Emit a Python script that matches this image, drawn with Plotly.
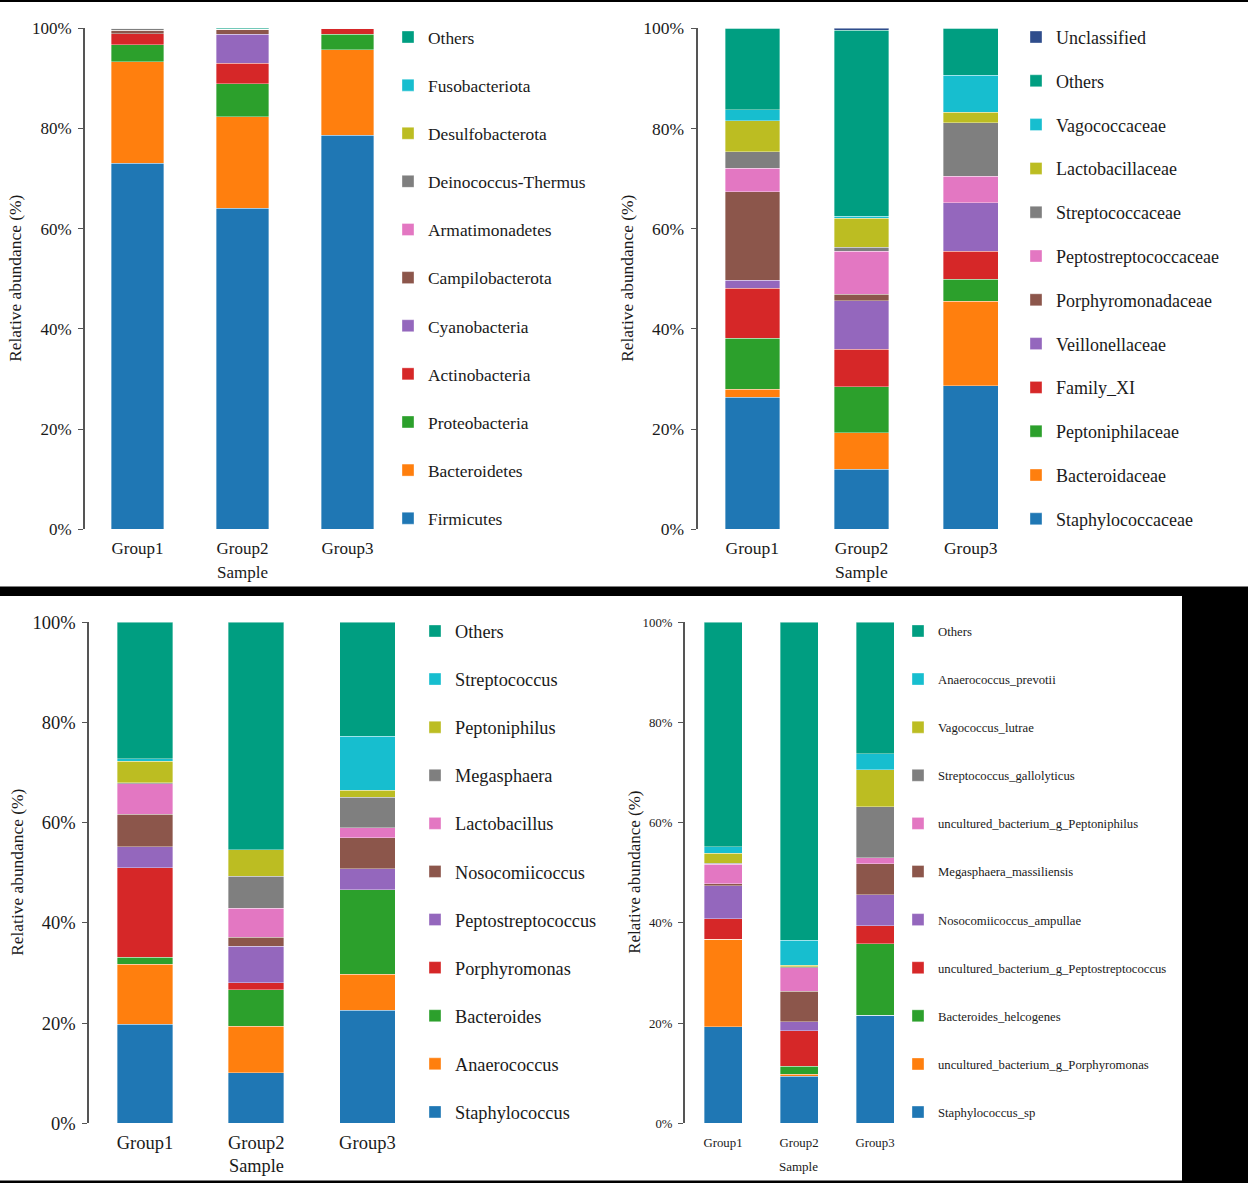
import plotly.graph_objects as go

W, H = 1248, 1183
groups = ["Group1", "Group2", "Group3"]
ytick_vals = [0, 20, 40, 60, 80, 100]
ytick_text = ["0%", "20%", "40%", "60%", "80%", "100%"]

# colours, bottom of the stack first
palette = ["#1f77b4", "#ff7f0e", "#2ca02c", "#d62728", "#9467bd", "#8c564b",
           "#e377c2", "#7f7f7f", "#bcbd22", "#17becf", "#009e81", "#2f4d8c"]

# phylum level
phylum_names = ["Firmicutes", "Bacteroidetes", "Proteobacteria", "Actinobacteria",
                "Cyanobacteria", "Campilobacterota", "Armatimonadetes",
                "Deinococcus-Thermus", "Desulfobacterota", "Fusobacteriota", "Others"]
phylum_g1 = [73.1, 20.2, 3.4, 2.2, 0.0, 0.7, 0.0, 0.4, 0.0, 0.0, 0.0]
phylum_g2 = [64.1, 18.2, 6.6, 4.1, 5.8, 1.0, 0.0, 0.0, 0.0, 0.0, 0.2]
phylum_g3 = [78.7, 17.0, 3.1, 1.2, 0.0, 0.0, 0.0, 0.0, 0.0, 0.0, 0.0]

# family level
family_names = ["Staphylococcaceae", "Bacteroidaceae", "Peptoniphilaceae", "Family_XI",
                "Veillonellaceae", "Porphyromonadaceae", "Peptostreptococcaceae",
                "Streptococcaceae", "Lactobacillaceae", "Vagococcaceae", "Others",
                "Unclassified"]
family_g1 = [26.4, 1.6, 10.1, 10.0, 1.6, 17.7, 4.7, 3.3, 6.1, 2.2, 16.3, 0.0]
family_g2 = [12.0, 7.3, 9.2, 7.4, 9.7, 1.3, 8.6, 0.8, 5.8, 0.4, 37.1, 0.4]
family_g3 = [28.7, 16.8, 4.4, 5.6, 9.7, 0.0, 5.3, 10.6, 2.1, 7.4, 9.4, 0.0]

# genus level
genus_names = ["Staphylococcus", "Anaerococcus", "Bacteroides", "Porphyromonas",
               "Peptostreptococcus", "Nosocomiicoccus", "Lactobacillus", "Megasphaera",
               "Peptoniphilus", "Streptococcus", "Others"]
genus_g1 = [19.8, 11.9, 1.4, 17.9, 4.2, 6.5, 6.1, 0.2, 4.3, 0.5, 27.2]
genus_g2 = [10.1, 9.3, 7.3, 1.4, 7.2, 1.8, 5.8, 6.4, 5.3, 0.0, 45.4]
genus_g3 = [22.6, 7.2, 16.8, 0.0, 4.2, 6.2, 2.0, 6.1, 1.4, 10.8, 22.7]

# species level
species_names = ["Staphylococcus_sp", "uncultured_bacterium_g_Porphyromonas",
                 "Bacteroides_helcogenes", "uncultured_bacterium_g_Peptostreptococcus",
                 "Nosocomiicoccus_ampullae", "Megasphaera_massiliensis",
                 "uncultured_bacterium_g_Peptoniphilus", "Streptococcus_gallolyticus",
                 "Vagococcus_lutrae", "Anaerococcus_prevotii", "Others"]
species_g1 = [19.3, 17.4, 0.0, 4.1, 6.6, 0.4, 3.9, 0.2, 2.0, 1.3, 44.8]
species_g2 = [9.4, 0.4, 1.6, 7.1, 1.8, 6.1, 4.6, 0.2, 0.3, 5.0, 63.5]
species_g3 = [21.6, 0.0, 14.2, 3.6, 6.2, 6.2, 1.2, 10.2, 7.4, 3.2, 26.2]

SERIF = "Liberation Serif"
INK = "#1a1a1a"


def fx(px):
    return px / W


def fy(py):
    return 1 - py / H


# page pixel geometry and font sizes of the four panels
panels = [
    dict(names=phylum_names, vals=[phylum_g1, phylum_g2, phylum_g3],
         xd=(85, 400), yd=(28.3, 529.3), leg=(388, 19.2), leg_fs=17.4, gap=22.5,
         tick_fs=17, ticklen=3, title_fs=17.4, title_x=15, sample_fs=17),
    dict(names=family_names, vals=[family_g1, family_g2, family_g3],
         xd=(697.7, 1025.3), yd=(28.3, 529.3), leg=(1016, 18.8), leg_fs=18, gap=17.4,
         tick_fs=17.5, ticklen=2.5, title_fs=17.4, title_x=627, sample_fs=17.6),
    dict(names=genus_names, vals=[genus_g1, genus_g2, genus_g3],
         xd=(89.3, 423), yd=(622.3, 1123.3), leg=(415, 612.6), leg_fs=18.3, gap=21.3,
         tick_fs=18.5, ticklen=2, title_fs=17.4, title_x=17, sample_fs=18.3),
    dict(names=species_names, vals=[species_g1, species_g2, species_g3],
         xd=(685, 913), yd=(622.3, 1123.3), leg=(898, 616.2), leg_fs=12.7, gap=28.6,
         tick_fs=12.8, ticklen=7, title_fs=17, title_x=635, sample_fs=13),
]

fig = go.Figure()
layout = dict(
    width=W, height=H, margin=dict(l=0, r=0, t=0, b=0, autoexpand=False),
    paper_bgcolor="white", plot_bgcolor="white", barmode="stack",
    font=dict(family=SERIF, color=INK),
)
annotations = []

for p, pan in enumerate(panels):
    n = p + 1
    sfx = "" if n == 1 else str(n)
    leg = "legend" if n == 1 else "legend%d" % n
    xd, yd = pan["xd"], pan["yd"]
    for i, name in enumerate(pan["names"]):
        fig.add_trace(go.Bar(
            x=groups, y=[v[i] for v in pan["vals"]], name=name,
            xaxis="x" + sfx, yaxis="y" + sfx, legend=leg,
            legendgroup="p%d_%s" % (n, name), legendrank=1000 - i,
            width=0.5,
            marker=dict(color=palette[i], line=dict(color="rgba(255,255,255,0.45)", width=0.8)),
        ))

    tickfont = dict(family=SERIF, size=pan["tick_fs"], color=INK)
    layout["xaxis" + sfx] = dict(
        domain=[fx(xd[0]), fx(xd[1])], anchor="y" + sfx, range=[-0.5, 2.5],
        showline=False, showgrid=False, zeroline=False, automargin=False,
        ticks="outside", ticklen=pan["ticklen"], tickcolor="rgba(0,0,0,0)",
        tickfont=tickfont,
    )
    layout["yaxis" + sfx] = dict(
        domain=[fy(yd[1]), fy(yd[0])], anchor="x" + sfx, range=[0, 100],
        tickmode="array", tickvals=ytick_vals, ticktext=ytick_text,
        showline=True, linecolor="#555", linewidth=2, automargin=False,
        ticks="outside", ticklen=5, tickwidth=1.2, tickcolor="#555",
        ticklabelstandoff=3,
        showgrid=False, zeroline=False, tickfont=tickfont,
    )
    layout[leg] = dict(
        x=fx(pan["leg"][0]), y=fy(pan["leg"][1]), xanchor="left", yanchor="top",
        traceorder="grouped", tracegroupgap=pan["gap"],
        bgcolor="rgba(0,0,0,0)", borderwidth=0,
        font=dict(family=SERIF, size=pan["leg_fs"], color=INK),
    )

    annotations.append(dict(
        text="Sample", xref="paper", yref="paper", showarrow=False,
        x=fx((xd[0] + xd[1]) / 2), y=fy(yd[1] + 43), xanchor="center", yanchor="middle",
        font=dict(family=SERIF, size=pan["sample_fs"], color=INK),
    ))
    annotations.append(dict(
        text="Relative abundance (%)", xref="paper", yref="paper", showarrow=False,
        x=fx(pan["title_x"]), y=fy((yd[0] + yd[1]) / 2), textangle=-90,
        xanchor="center", yanchor="middle",
        font=dict(family=SERIF, size=pan["title_fs"], color=INK),
    ))

layout["annotations"] = annotations

# black frame strips of the composed figure
black = dict(type="rect", xref="paper", yref="paper", fillcolor="black", line=dict(width=0), layer="above")
layout["shapes"] = [
    dict(black, x0=0, x1=1, y0=fy(2), y1=1),
    dict(black, x0=0, x1=1, y0=fy(596), y1=fy(586.5)),
    dict(black, x0=fx(1182), x1=1, y0=0, y1=fy(596)),
    dict(black, x0=0, x1=1, y0=0, y1=fy(1180.5)),
]

fig.update_layout(**layout)

# pin the figure to the page corner so the page is exactly the figure
pin = ("document.body.style.margin = '0';"
       "var gd = document.getElementById('{plot_id}');"
       "gd.style.position = 'fixed'; gd.style.left = '0'; gd.style.top = '0';")
fig.write_html("out.html", config={"displayModeBar": False}, post_script=pin)
